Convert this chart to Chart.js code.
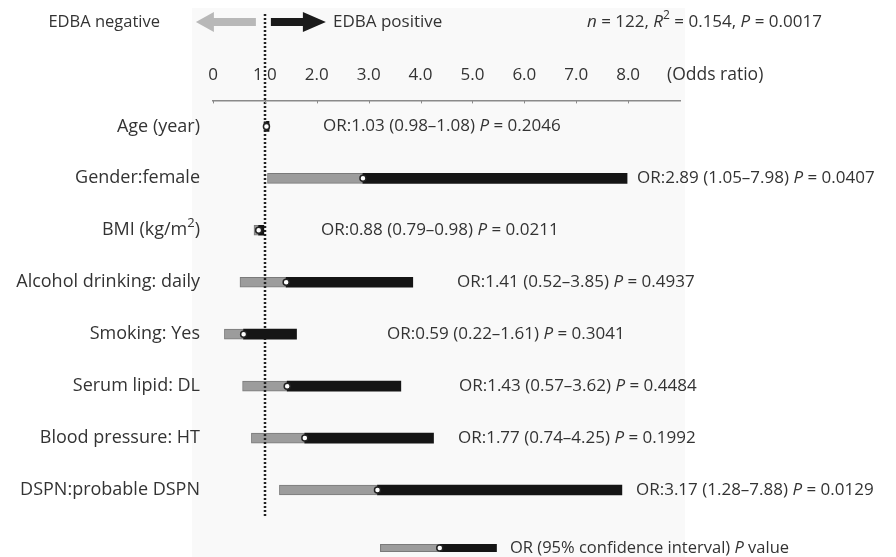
<!DOCTYPE html>
<html>
<head>
<meta charset="utf-8">
<script src="https://cdn.jsdelivr.net/npm/chart.js@4.4.1/dist/chart.umd.min.js"></script>
<style>
  html, body { margin: 0; padding: 0; background: #fff; }
  #wrap { width: 896px; height: 557px; }
</style>
</head>
<body>
<div id="wrap"><canvas id="forest" width="896" height="557"></canvas></div>
<script>
// forest plot data
const factors = ['Age (year)', 'Gender:female', 'BMI (kg/m²)', 'Alcohol drinking: daily',
  'Smoking: Yes', 'Serum lipid: DL', 'Blood pressure: HT', 'DSPN:probable DSPN'];
const oddsRatio = [1.03, 2.89, 0.88, 1.41, 0.59, 1.43, 1.77, 3.17];
const ciLow = [0.98, 1.05, 0.79, 0.52, 0.22, 0.57, 0.74, 1.28];
const ciHigh = [1.08, 7.98, 0.98, 3.85, 1.61, 3.62, 4.25, 7.88];
const pValues = ['0.2046', '0.0407', '0.0211', '0.4937', '0.3041', '0.4484', '0.1992', '0.0129'];
const tickValues = [0, 1, 2, 3, 4, 5, 6, 7, 8];

// legend key sample (low, OR, high)
const keyLow = 3.22, keyOR = 4.37, keyHigh = 5.47;

// where each OR text starts (px) - the figure places them by hand
const noteX = [323, 637, 321, 457, 387, 459, 458, 636];

const FONT = '"Open Sans", sans-serif';
const TEXT = '#333';

function fontFor(p, size) {
  return (p.i ? 'italic ' : '') + (p.sup ? Math.round(size * 0.7) : size) + 'px ' + FONT;
}

function drawRich(ctx, parts, x, y, align, size) {
  let w = 0;
  parts.forEach(p => { ctx.font = fontFor(p, size); p.w = ctx.measureText(p.t).width; w += p.w; });
  let cx = align === 'right' ? x - w : x;
  ctx.textAlign = 'left';
  ctx.textBaseline = 'middle';
  parts.forEach(p => {
    ctx.font = fontFor(p, size);
    ctx.fillText(p.t, cx, p.sup ? y - size * 0.38 : y);
    cx += p.w;
  });
}

function labelParts(s) {
  if (s.indexOf('²') < 0) return [{t: s}];
  const bits = s.split('²');
  return [{t: bits[0]}, {t: '2', sup: true}, {t: bits[1]}];
}

function drawArrow(ctx, tipX, baseX, endX, y, color) {
  ctx.fillStyle = color;
  ctx.beginPath();
  ctx.moveTo(tipX, y);
  ctx.lineTo(baseX, y - 10);
  ctx.lineTo(baseX, y - 4);
  ctx.lineTo(endX, y - 4);
  ctx.lineTo(endX, y + 4);
  ctx.lineTo(baseX, y + 4);
  ctx.lineTo(baseX, y + 10);
  ctx.closePath();
  ctx.fill();
}

const decor = {
  id: 'decor',
  beforeDraw(chart) {
    const ctx = chart.ctx;
    ctx.save();
    ctx.fillStyle = '#f9f9f9';
    ctx.fillRect(192, 8, 493, 549);
    ctx.restore();
  },
  afterDatasetDraw(chart, args) {
    if (args.index !== 2) return;
    // dotted reference line at OR = 1, over the bars
    const ctx = chart.ctx;
    const x1 = Math.round(chart.scales.x.getPixelForValue(1));
    ctx.save();
    ctx.strokeStyle = '#222';
    ctx.lineWidth = 2.5;
    ctx.setLineDash([2, 2]);
    ctx.beginPath();
    ctx.moveTo(x1, 14);
    ctx.lineTo(x1, 518);
    ctx.stroke();
    ctx.restore();
  },
  afterDraw(chart) {
    const ctx = chart.ctx;
    const xs = chart.scales.x, ys = chart.scales.y;
    ctx.save();

    // small tick marks hanging under the odds-ratio axis
    ctx.strokeStyle = '#8a8a8a';
    ctx.lineWidth = 1;
    tickValues.forEach(v => {
      const px = Math.round(xs.getPixelForValue(v)) + 0.5;
      ctx.beginPath();
      ctx.moveTo(px, xs.bottom);
      ctx.lineTo(px, xs.bottom + 3);
      ctx.stroke();
    });

    ctx.fillStyle = TEXT;
    // row labels and OR notes
    factors.forEach((f, i) => {
      const y = ys.getPixelForValue(i);
      ctx.fillStyle = TEXT;
      drawRich(ctx, labelParts(f), 200, y, 'right', 18);
      drawRich(ctx, [
        {t: 'OR:' + oddsRatio[i].toFixed(2) + ' (' + ciLow[i].toFixed(2) + '–' + ciHigh[i].toFixed(2) + ') '},
        {t: 'P', i: true},
        {t: ' = ' + pValues[i]}
      ], noteX[i], y, 'left', 17);
    });

    // header
    const one = xs.getPixelForValue(1);
    drawRich(ctx, [{t: 'EDBA negative'}], 160, 22, 'right', 16.5);
    drawArrow(ctx, one - 69, one - 51, one - 9, 22, '#b8b8b8');
    drawArrow(ctx, one + 61, one + 38, one + 6, 22, '#1a1a1a');
    ctx.fillStyle = TEXT;
    drawRich(ctx, [{t: 'EDBA positive'}], 333, 22, 'left', 17);
    drawRich(ctx, [
      {t: 'n', i: true}, {t: ' = 122, '}, {t: 'R', i: true}, {t: '2', sup: true},
      {t: ' = 0.154, '}, {t: 'P', i: true}, {t: ' = 0.0017'}
    ], 587, 22, 'left', 17);
    drawRich(ctx, [{t: '(Odds ratio)'}], 667, 75, 'left', 17.5);

    // legend key
    const ky = 548;
    const a = xs.getPixelForValue(keyLow), b = xs.getPixelForValue(keyOR), c = xs.getPixelForValue(keyHigh);
    ctx.fillStyle = '#9c9c9c';
    ctx.strokeStyle = '#7a7a7a';
    ctx.lineWidth = 1;
    ctx.fillRect(a, ky - 4, b - a, 8);
    ctx.strokeRect(a + 0.5, ky - 3.5, b - a - 1, 7);
    ctx.fillStyle = '#151515';
    ctx.fillRect(b, ky - 4, c - b, 8);
    ctx.beginPath();
    ctx.arc(b, ky, 3, 0, Math.PI * 2);
    ctx.fillStyle = '#fff';
    ctx.fill();
    ctx.strokeStyle = '#222';
    ctx.lineWidth = 1.5;
    ctx.stroke();
    ctx.fillStyle = TEXT;
    drawRich(ctx, [{t: 'OR (95% confidence interval) '}, {t: 'P', i: true}, {t: ' value'}], 510, ky, 'left', 16.5);
    ctx.restore();
  }
};

new Chart(document.getElementById('forest'), {
  type: 'bar',
  data: {
    labels: factors,
    datasets: [
      {
        type: 'line',
        label: 'OR',
        indexAxis: 'y',
        showLine: false,
        data: oddsRatio.map((v, i) => ({x: v, y: factors[i]})),
        pointStyle: 'circle',
        pointRadius: 3,
        pointBackgroundColor: '#fff',
        pointBorderColor: '#222',
        pointBorderWidth: 1.5,
        order: 0
      },
      {
        label: 'OR to upper CI',
        data: oddsRatio.map((v, i) => [v, ciHigh[i]]),
        backgroundColor: '#151515',
        barThickness: 10,
        grouped: false,
        order: 1
      },
      {
        label: 'lower CI to OR',
        data: oddsRatio.map((v, i) => [ciLow[i], v]),
        backgroundColor: '#9c9c9c',
        borderColor: '#7a7a7a',
        borderWidth: 1,
        borderSkipped: false,
        barThickness: 10,
        grouped: false,
        order: 2
      }
    ]
  },
  options: {
    indexAxis: 'y',
    responsive: false,
    animation: false,
    layout: { padding: { left: 213, right: 216, top: 50, bottom: 41 } },
    plugins: { legend: { display: false }, tooltip: { enabled: false } },
    scales: {
      x: {
        position: 'top',
        min: 0,
        max: 9,
        afterBuildTicks: axis => { axis.ticks = tickValues.map(v => ({value: v})); },
        grid: { drawOnChartArea: false, drawTicks: false },
        border: { color: '#8a8a8a', width: 1.5 },
        ticks: {
          padding: 15,
          color: TEXT,
          font: { family: FONT, size: 17 },
          callback: v => v === 0 ? '0' : v.toFixed(1)
        }
      },
      y: { display: false, offset: true }
    }
  },
  plugins: [decor]
});
</script>
</body>
</html>
